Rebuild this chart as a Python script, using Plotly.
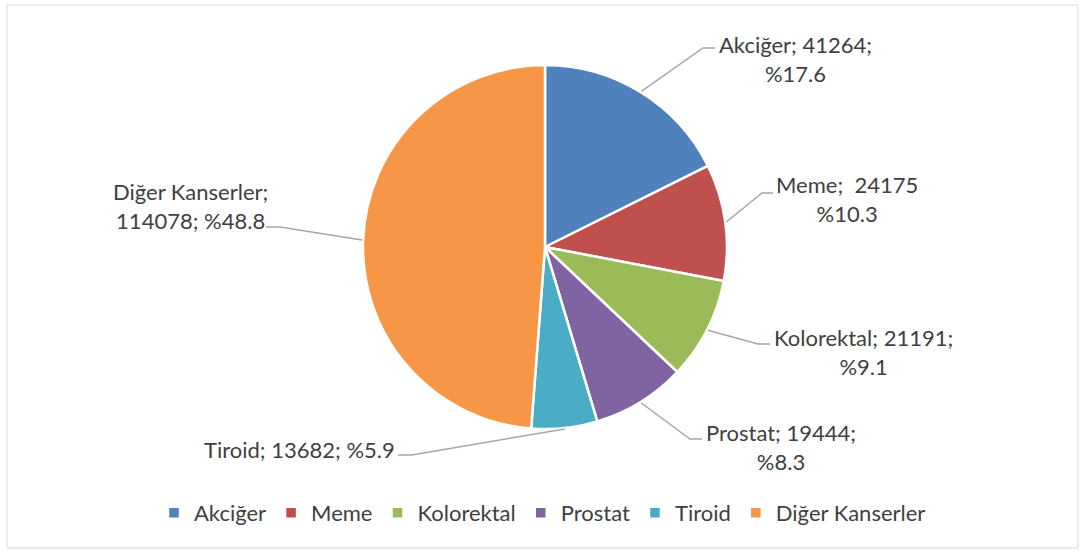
import math
import plotly.graph_objects as go

# ---- data ----
categories = ["Akciğer", "Meme", "Kolorektal", "Prostat", "Tiroid", "Diğer Kanserler"]
values = [41264, 24175, 21191, 19444, 13682, 114078]
percent_labels = ["%17.6", "%10.3", "%9.1", "%8.3", "%5.9", "%48.8"]
colors = ["#4F81BD", "#C0504D", "#9BBB59", "#8064A2", "#4BACC6", "#F79646"]

label_texts = [
    f"{categories[0]}; {values[0]};<br>{percent_labels[0]}",
    f"{categories[1]};&nbsp; {values[1]}<br>{percent_labels[1]}",
    f"{categories[2]}; {values[2]};<br>{percent_labels[2]}",
    f"{categories[3]}; {values[3]};<br>{percent_labels[3]}",
    f"{categories[4]}; {values[4]}; {percent_labels[4]}",
    f"{categories[5]};<br>{values[5]}; {percent_labels[5]}",
]

# ---- layout (pixels) ----
W, H = 1085, 552
CX, CY, R = 545, 247, 182
# label centre positions and leader-line elbow / end points (pixels)
label_pos = [(795, 59), (847, 199), (863, 352), (781, 447), (299, 449), (190, 206)]
elbows = [((703, 48), (715, 48)), ((762, 193), (773, 193)), ((758, 344), (770, 344)),
          ((690, 439), (702, 439)), ((412, 455), (398, 455)), ((280, 227), (266, 227))]

def px(x):
    return x / W

def py(y):
    return 1 - y / H

FONT = "Lato, 'Open Sans', sans-serif"
TXT = "#404040"
FS = 22

fig = go.Figure(go.Pie(
    labels=categories,
    values=values,
    sort=False,
    direction="clockwise",
    rotation=0,
    marker=dict(colors=colors, line=dict(color="white", width=2.5)),
    textinfo="none",
    hoverinfo="label+value+percent",
    domain=dict(x=[px(CX - R), px(CX + R)], y=[py(CY + R), py(CY - R)]),
))

total = sum(values)
cum = 0
shapes = []
annotations = []
for i, v in enumerate(values):
    mid = (cum + v / 2) / total * 2 * math.pi
    cum += v
    sx = CX + (R + 1) * math.sin(mid)
    sy = CY - (R + 1) * math.cos(mid)
    (ex, ey), (fx, fy) = elbows[i]
    shapes.append(dict(
        type="path", xref="paper", yref="paper",
        path=f"M {px(sx)} {py(sy)} L {px(ex)} {py(ey)} L {px(fx)} {py(fy)}",
        line=dict(color="#A6A6A6", width=1.5),
    ))
    lx, ly = label_pos[i]
    annotations.append(dict(
        x=px(lx), y=py(ly), xref="paper", yref="paper",
        text=label_texts[i], showarrow=False, xanchor="center", yanchor="middle",
        font=dict(family=FONT, size=FS, color=TXT), align="center",
    ))

# outer border
shapes.append(dict(type="rect", xref="paper", yref="paper",
                   x0=px(7), x1=px(1078), y0=py(548), y1=py(5),
                   line=dict(color="#D9D9D9", width=1)))

fig.update_layout(
    width=W, height=H,
    margin=dict(l=0, r=0, t=0, b=0),
    paper_bgcolor="white",
    plot_bgcolor="white",
    shapes=shapes,
    annotations=annotations,
    showlegend=True,
    legend=dict(orientation="h", x=0.5, xanchor="center", y=py(513), yanchor="middle",
                font=dict(family=FONT, size=FS, color=TXT), itemwidth=30,
                traceorder="normal"),
)

fig.write_html("out.html", post_script="document.body.style.margin='0';",
               config={"displayModeBar": False})
